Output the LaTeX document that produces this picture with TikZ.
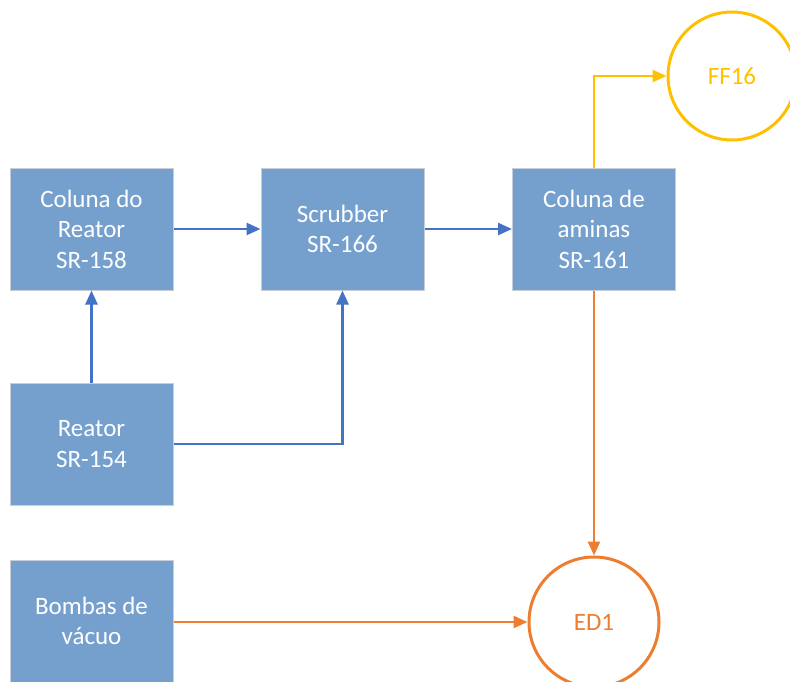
\documentclass[tikz,border=0pt]{standalone}
\usepackage{fontspec}
\setmainfont{Carlito}
\usetikzlibrary{arrows.meta}
\definecolor{boxfill}{RGB}{117,160,206}
\definecolor{boxline}{RGB}{200,206,214}
\definecolor{flowblue}{RGB}{68,114,196}
\definecolor{floworange}{RGB}{237,125,49}
\definecolor{flowyellow}{RGB}{255,192,0}
\tikzset{
  unit/.style={draw=boxline, line width=1pt, fill=boxfill, text=white,
    minimum width=163pt, minimum height=122pt, align=center,
    font=\fontsize{25}{30.5}\selectfont},
  sink/.style={circle, line width=3pt, minimum size=128pt,
    font=\fontsize{25}{30}\selectfont},
  flow/.style={line width=2.5pt, -{Triangle[length=14pt,width=12pt]}}
}
\begin{document}
\begin{tikzpicture}[x=1pt,y=-1pt]
      \useasboundingbox (0,0) rectangle (790,681);
      \draw
        (91.5,229) node[unit] (col){Coluna do\\Reator\\SR-158}
        (342.5,229) node[unit] (scr){Scrubber\\SR-166}
        (594,229) node[unit] (ami){Coluna de\\aminas\\SR-161}
        (91.5,444) node[unit] (rea){Reator\\SR-154}
        (91.5,621) node[unit] (bom){Bombas de\\vácuo}
        (732,76) node[sink, draw=flowyellow, text=flowyellow] (ff){FF16}
        (594,622) node[sink, draw=floworange, text=floworange, minimum size=130pt] (ed){ED1};
      \begin{scope}[flow, flowblue]
        \draw (col) to (scr);
        \draw (scr) to (ami);
        \draw (rea) to (col);
        \draw (rea.east) -| (scr.south);
      \end{scope}
      \begin{scope}[flow, floworange]
        \draw (ami) to (ed);
        \draw (bom.east |- ed.west) to (ed.west);
      \end{scope}
      \draw[flow, flowyellow] (ami.north) |- (ff.west);
    \end{tikzpicture}
\end{document}
